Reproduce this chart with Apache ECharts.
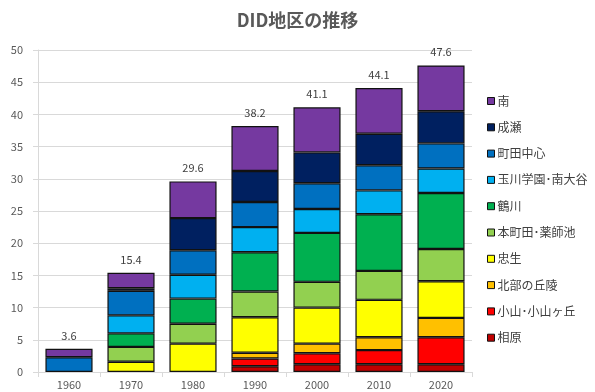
<!DOCTYPE html>
<html>
<head>
<meta charset="utf-8">
<script src="https://cdn.jsdelivr.net/npm/echarts@6/dist/echarts.min.js"></script>
<style>
  html, body { margin: 0; padding: 0; background: #fff; }
  #chart { width: 595px; height: 392px; }
</style>
</head>
<body>
<div id="chart"></div>
<script>
// DID地区の面積推移（地区別の積み上げ）
const years = ['1960', '1970', '1980', '1990', '2000', '2010', '2020'];

// 下から積み上げる順
const aihara     = [null, null, null, 0.9, 1.2, 1.2, 1.2];
const oyama      = [null, null, null, 1.2, 1.7, 2.2, 4.2];
const hokubu     = [null, null, null, 0.9, 1.5, 2.0, 3.0];
const tadao      = [null, 1.6, 4.4, 5.5, 5.6, 5.8, 5.7];
const honmachida = [null, 2.3, 3.1, 4.0, 4.0, 4.5, 5.0];
const tsurukawa  = [null, 2.1, 3.9, 6.1, 7.6, 8.8, 8.7];
const tamagawa   = [null, 2.8, 3.7, 3.9, 3.7, 3.7, 3.8];
const chushin    = [2.3, 3.8, 3.8, 3.9, 4.0, 3.9, 3.9];
const naruse     = [null, 0.4, 5.0, 4.8, 4.8, 4.9, 5.0];
const minami     = [1.3, 2.4, 5.7, 7.0, 7.0, 7.1, 7.1];

const yTicks = [0, 5, 10, 15, 20, 25, 30, 35, 40, 45, 50];

const seriesDefs = [
  { name: '相原',             data: aihara,     color: '#C00000' },
  { name: '小山･小山ヶ丘',    data: oyama,      color: '#FF0000' },
  { name: '北部の丘陵',       data: hokubu,     color: '#FFC000' },
  { name: '忠生',             data: tadao,      color: '#FFFF00' },
  { name: '本町田･薬師池',    data: honmachida, color: '#92D050' },
  { name: '鶴川',             data: tsurukawa,  color: '#00B050' },
  { name: '玉川学園･南大谷',  data: tamagawa,   color: '#00B0F0' },
  { name: '町田中心',         data: chushin,    color: '#0070C0' },
  { name: '成瀬',             data: naruse,     color: '#002060' },
  { name: '南',               data: minami,     color: '#7539A0' }
];

// 各年の合計（棒の上に表示）
const totals = years.map((_, i) =>
  seriesDefs.reduce((s, d) => s + (d.data[i] || 0), 0)
);

const FONT = '"Noto Sans CJK JP", "Liberation Sans", sans-serif';

const series = seriesDefs.map((d, idx) => {
  const s = {
    name: d.name,
    type: 'bar',
    stack: 'did',
    data: d.data,
    barCategoryGap: '24%',
    itemStyle: { color: d.color, borderColor: '#111', borderWidth: 1.2 },
    emphasis: { disabled: true }
  };
  if (idx === seriesDefs.length - 1) {
    s.label = {
      show: true,
      position: 'top',
      distance: 8,
      fontFamily: FONT,
      fontSize: 11,
      color: '#404040',
      formatter: p => totals[p.dataIndex].toFixed(1)
    };
  }
  return s;
});

const chart = echarts.init(document.getElementById('chart'), null, { renderer: 'canvas' });
chart.setOption({
  animation: false,
  backgroundColor: '#fff',
  title: {
    text: 'DID地区の推移',
    left: 'center',
    top: 6,
    textStyle: { fontFamily: FONT, fontSize: 18, fontWeight: 'bold', color: '#595959' }
  },
  legend: {
    orient: 'vertical',
    left: 482,
    top: 90,
    itemGap: 14.3,
    itemWidth: 7,
    itemHeight: 7,
    icon: 'rect',
    itemStyle: { borderColor: '#111', borderWidth: 1 },
    textStyle: { fontFamily: FONT, fontSize: 12, color: '#404040', padding: [0, 0, 0, -2] },
    data: seriesDefs.map(d => d.name).reverse()
  },
  grid: { left: 38, right: 123, top: 50, bottom: 20, containLabel: false },
  xAxis: {
    type: 'category',
    data: years,
    axisLine: { lineStyle: { color: '#d9d9d9' } },
    axisTick: { show: true, length: 5, lineStyle: { color: '#d9d9d9' } },
    axisLabel: { fontFamily: FONT, fontSize: 11, color: '#595959', margin: 7 }
  },
  yAxis: {
    type: 'value',
    min: yTicks[0],
    max: yTicks[yTicks.length - 1],
    interval: 5,
    axisLine: { show: true, lineStyle: { color: '#d9d9d9' } },
    axisTick: { show: true, length: 5, lineStyle: { color: '#d9d9d9' } },
    splitLine: { lineStyle: { color: '#d9d9d9' } },
    axisLabel: { fontFamily: FONT, fontSize: 11, color: '#595959', margin: 15 }
  },
  series: series
});
</script>
</body>
</html>
